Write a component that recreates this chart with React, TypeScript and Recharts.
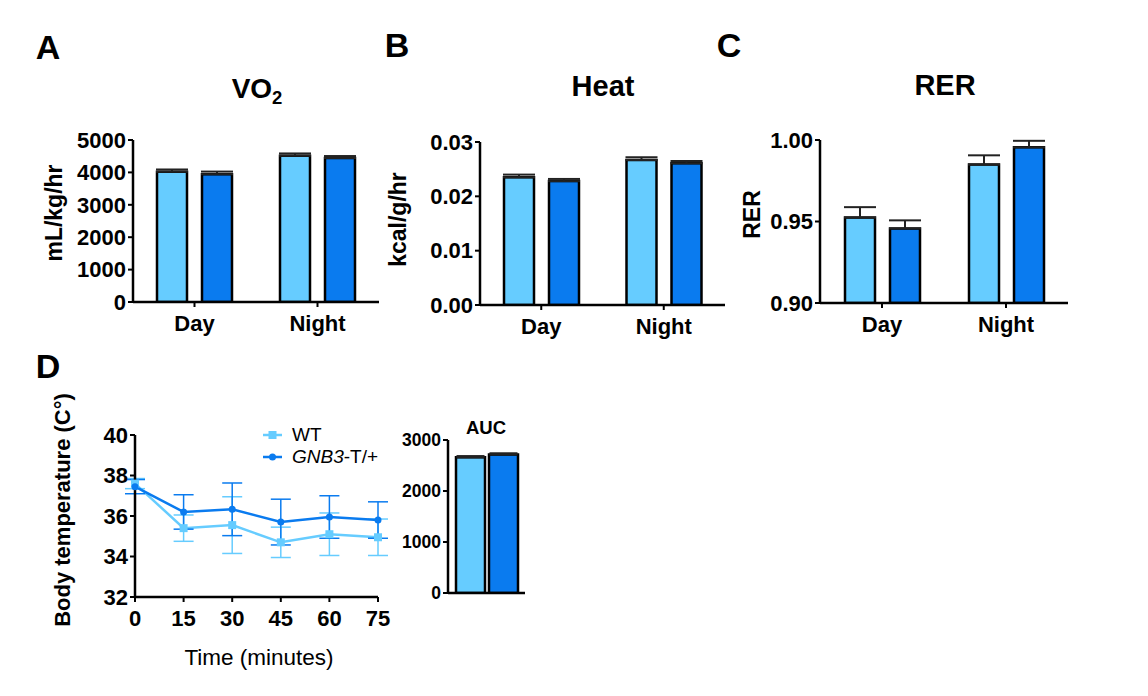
import React from "react";
import { BarChart, Bar, ErrorBar, XAxis, YAxis, LineChart, Line, Legend } from "recharts";

const FONT = "'Liberation Sans', Arial, Helvetica, sans-serif";
const LIGHT = "#66CCFF";
const DARK = "#0A7BEF";

// panels A-C: day / night means with SEM
const periods = ["Day", "Night"];
const vo2Wt = [4020, 4515];
const vo2WtErr = [70, 70];
const vo2Gnb3 = [3945, 4445];
const vo2Gnb3Err = [80, 60];
const vo2Ticks = [0, 1000, 2000, 3000, 4000, 5000];

const heatWt = [0.0235, 0.0267];
const heatWtErr = [0.0005, 0.0005];
const heatGnb3 = [0.0228, 0.0261];
const heatGnb3Err = [0.0004, 0.0004];
const heatTicks = [0, 0.01, 0.02, 0.03];

const rerWt = [0.9524, 0.9849];
const rerWtErr = [0.0064, 0.0057];
const rerGnb3 = [0.9457, 0.9955];
const rerGnb3Err = [0.005, 0.004];
const rerTicks = [0.9, 0.95, 1.0];

// panel D: body temperature over time
const minutes = [0, 15, 30, 45, 60, 75];
const tempWt = [37.6, 35.4, 35.55, 34.7, 35.1, 34.95];
const tempWtErr = [0.25, 0.65, 1.4, 0.75, 1.05, 0.9];
const tempGnb3 = [37.45, 36.2, 36.33, 35.7, 35.95, 35.8];
const tempGnb3Err = [0.35, 0.85, 1.3, 1.13, 1.05, 0.9];
const tempTicks = [32, 34, 36, 38, 40];

const aucWt = 2660;
const aucWtErr = 25;
const aucGnb3 = 2715;
const aucGnb3Err = 25;
const aucTicks = [0, 1000, 2000, 3000];

const barRows = (wt, wtErr, gnb3, gnb3Err) =>
  periods.map((p, i) => ({
    period: p,
    wt: wt[i],
    wtErr: [0, wtErr[i]],
    gnb3: gnb3[i],
    gnb3Err: [0, gnb3Err[i]],
  }));

const tempRows = minutes.map((t, i) => ({
  t,
  wt: tempWt[i],
  wtErr: tempWtErr[i],
  gnb3: tempGnb3[i],
  gnb3Err: tempGnb3Err[i],
}));

const aucRows = [{ g: "AUC", wt: aucWt, wtErr: [0, aucWtErr], gnb3: aucGnb3, gnb3Err: [0, aucGnb3Err] }];

const Txt = ({ x, y, size, bold = true, children }) => (
  <div
    style={{
      position: "absolute",
      left: x,
      top: y,
      transform: "translate(-50%, -50%)",
      fontSize: size,
      fontWeight: bold ? 700 : 400,
      lineHeight: 1,
      whiteSpace: "nowrap",
      color: "#000",
    }}
  >
    {children}
  </div>
);

const yLab = (text, x, size, dy, bold = true) => (props) => {
  const vb = props.viewBox || { y: 0, height: 0 };
  const cy = vb.y + vb.height / 2 + dy;
  return (
    <text
      x={x}
      y={cy}
      transform={`rotate(-90 ${x} ${cy})`}
      textAnchor="middle"
      dominantBaseline="central"
      fontSize={size}
      fontWeight={bold ? 700 : 400}
      fontFamily={FONT}
      fill="#000"
    >
      {text}
    </text>
  );
};

const axisLine = { stroke: "#000", strokeWidth: 2.5 };
const tickLine = { stroke: "#000", strokeWidth: 2 };
const tickFont = { fontSize: 22, fontWeight: 700, fill: "#000", fontFamily: FONT };

function BarPanel({ left, width, margin, yWidth, data, domain, ticks, fmt, label }) {
  return (
    <div style={{ position: "absolute", left, top: 0 }}>
      <BarChart width={width} height={340} data={data} margin={margin} barSize={30} barGap={15}>
        <XAxis
          dataKey="period"
          height={30}
          axisLine={axisLine}
          tickLine={tickLine}
          tickSize={5}
          tickMargin={8}
          interval={0}
          tick={tickFont}
        />
        <YAxis
          width={yWidth}
          domain={domain}
          ticks={ticks}
          allowDataOverflow
          tickFormatter={fmt}
          axisLine={axisLine}
          tickLine={tickLine}
          tickSize={5}
          tickMargin={2}
          tick={tickFont}
          label={label}
        />
        <Bar dataKey="wt" fill={LIGHT} stroke="#000" strokeWidth={2.5} isAnimationActive={false}>
          <ErrorBar dataKey="wtErr" width={16} stroke="#222" strokeWidth={2} />
        </Bar>
        <Bar dataKey="gnb3" fill={DARK} stroke="#000" strokeWidth={2.5} isAnimationActive={false}>
          <ErrorBar dataKey="gnb3Err" width={16} stroke="#222" strokeWidth={2} />
        </Bar>
      </BarChart>
    </div>
  );
}

const SquareDot = (p) => (
  <rect key={`sq-${p.index}`} x={p.cx - 4} y={p.cy - 4} width={8} height={8} fill={LIGHT} />
);
const CircleDot = (p) => <circle key={`ci-${p.index}`} cx={p.cx} cy={p.cy} r={3.5} fill={DARK} />;

const LegendBox = () => (
  <div style={{ fontFamily: FONT, fontSize: 19, color: "#000", lineHeight: "22px" }}>
    <div style={{ display: "flex", alignItems: "center", height: 22 }}>
      <svg width={30} height={20}>
        <line x1={1} y1={10} x2={20} y2={10} stroke={LIGHT} strokeWidth={2.5} />
        <rect x={6.5} y={6} width={8} height={8} fill={LIGHT} />
      </svg>
      <span>WT</span>
    </div>
    <div style={{ display: "flex", alignItems: "center", height: 22 }}>
      <svg width={30} height={20}>
        <line x1={1} y1={10} x2={20} y2={10} stroke={DARK} strokeWidth={2.5} />
        <circle cx={10.5} cy={10} r={3.5} fill={DARK} />
      </svg>
      <span>
        <i>GNB3</i>-T/+
      </span>
    </div>
  </div>
);

export default function App() {
  return (
    <div
      style={{
        position: "absolute",
        left: 0,
        top: 0,
        width: 1148,
        height: 696,
        background: "#fff",
        fontFamily: FONT,
        overflow: "hidden",
      }}
    >
      <Txt x={48} y={47} size={34}>A</Txt>
      <Txt x={397} y={45} size={34}>B</Txt>
      <Txt x={729} y={45} size={34}>C</Txt>
      <Txt x={48} y={366} size={34}>D</Txt>

      <Txt x={257} y={89} size={28}>
        VO<span style={{ fontSize: "0.66em", position: "relative", top: "0.35em" }}>2</span>
      </Txt>
      <Txt x={603} y={86} size={29}>Heat</Txt>
      <Txt x={945} y={85} size={29}>RER</Txt>
      <Txt x={486} y={428} size={18.5}>AUC</Txt>

      <BarPanel
        left={0}
        width={400}
        margin={{ top: 140, right: 21, bottom: 8, left: 0 }}
        yWidth={133}
        data={barRows(vo2Wt, vo2WtErr, vo2Gnb3, vo2Gnb3Err)}
        domain={[0, 5000]}
        ticks={vo2Ticks}
        fmt={(v) => String(v)}
        label={yLab("mL/kg/hr", 54, 23, -8)}
      />
      <BarPanel
        left={340}
        width={400}
        margin={{ top: 142, right: 15, bottom: 5, left: 0 }}
        yWidth={140}
        data={barRows(heatWt, heatWtErr, heatGnb3, heatGnb3Err)}
        domain={[0, 0.03]}
        ticks={heatTicks}
        fmt={(v) => v.toFixed(2)}
        label={yLab("kcal/g/hr", 58, 23, -4)}
      />
      <BarPanel
        left={740}
        width={400}
        margin={{ top: 140, right: 72, bottom: 7, left: 0 }}
        yWidth={80}
        data={barRows(rerWt, rerWtErr, rerGnb3, rerGnb3Err)}
        domain={[0.9, 1.0]}
        ticks={rerTicks}
        fmt={(v) => v.toFixed(2)}
        label={yLab("RER", 12, 23, -7)}
      />

      <div style={{ position: "absolute", left: 0, top: 340 }}>
        <LineChart width={400} height={356} data={tempRows} margin={{ top: 95, right: 22, bottom: 19, left: 0 }}>
          <XAxis
            type="number"
            dataKey="t"
            domain={[0, 75]}
            ticks={minutes}
            height={80}
            axisLine={axisLine}
            tickLine={tickLine}
            tickSize={5}
            tickMargin={8}
            interval={0}
            tick={tickFont}
            label={() => (
              <text x={259} y={317} textAnchor="middle" dominantBaseline="central" fontSize={22.5} fontFamily={FONT} fill="#000">
                Time (minutes)
              </text>
            )}
          />
          <YAxis
            width={135}
            domain={[32, 40]}
            ticks={tempTicks}
            allowDataOverflow
            axisLine={axisLine}
            tickLine={tickLine}
            tickSize={5}
            tickMargin={2}
            tick={tickFont}
            label={yLab("Body temperature (C°)", 62, 22, -6)}
          />
          <Legend
            layout="horizontal"
            verticalAlign="middle"
            align="center"
            wrapperStyle={{ left: 262, top: 84, width: "auto" }}
            content={() => <LegendBox />}
          />
          <Line
            dataKey="wt"
            stroke={LIGHT}
            strokeWidth={2.5}
            dot={SquareDot}
            activeDot={false}
            isAnimationActive={false}
          >
            <ErrorBar dataKey="wtErr" direction="y" width={10} stroke={LIGHT} strokeWidth={1.5} />
          </Line>
          <Line
            dataKey="gnb3"
            stroke={DARK}
            strokeWidth={2.5}
            dot={CircleDot}
            activeDot={false}
            isAnimationActive={false}
          >
            <ErrorBar dataKey="gnb3Err" direction="y" width={10} stroke={DARK} strokeWidth={1.5} />
          </Line>
        </LineChart>
      </div>

      <div style={{ position: "absolute", left: 380, top: 380 }}>
        <BarChart width={160} height={240} data={aucRows} margin={{ top: 60, right: 15, bottom: 7, left: 0 }} barSize={29} barGap={4}>
          <XAxis dataKey="g" height={20} axisLine={axisLine} tick={false} tickLine={false} />
          <YAxis
            width={68}
            domain={[0, 3000]}
            ticks={aucTicks}
            allowDataOverflow
            axisLine={axisLine}
            tickLine={tickLine}
            tickSize={5}
            tickMargin={2}
            tick={{ fontSize: 17.5, fontWeight: 700, fill: "#000", fontFamily: FONT }}
          />
          <Bar dataKey="wt" fill={LIGHT} stroke="#000" strokeWidth={2.5} isAnimationActive={false}>
            <ErrorBar dataKey="wtErr" width={14} stroke="#222" strokeWidth={2} />
          </Bar>
          <Bar dataKey="gnb3" fill={DARK} stroke="#000" strokeWidth={2.5} isAnimationActive={false}>
            <ErrorBar dataKey="gnb3Err" width={14} stroke="#222" strokeWidth={2} />
          </Bar>
        </BarChart>
      </div>
    </div>
  );
}
